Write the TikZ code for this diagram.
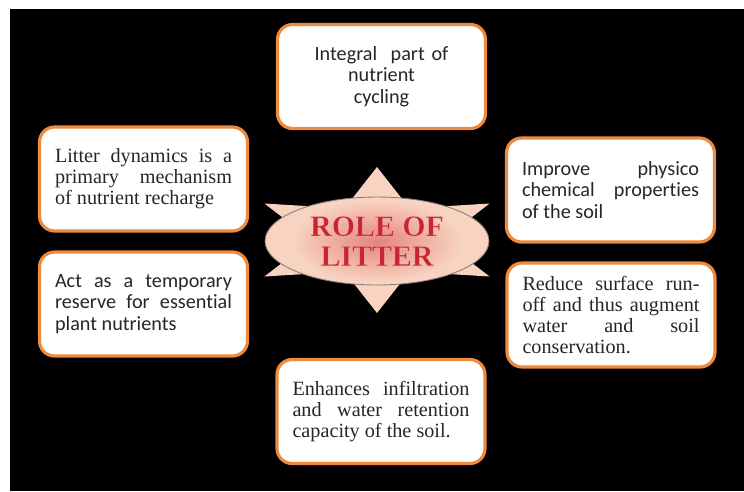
\documentclass[tikz,border=0pt]{standalone}
\usepackage{fontspec}
\setmainfont{Liberation Serif}
\newfontfamily\calibri[Ligatures=NoCommon]{Carlito}
\usetikzlibrary{shapes.geometric,fadings}
\definecolor{boxorange}{HTML}{EE8A3C}
\definecolor{peach}{HTML}{F9D3C1}
\definecolor{rimgray}{HTML}{8C7C74}
\definecolor{litterred}{HTML}{C8262E}
\definecolor{hazered}{HTML}{DC6464}
\newcommand{\rimword}[1]{\special{pdf:literal direct 2 Tr 0.18 w 0.95 0.72 0.70 RG}#1%
	\special{pdf:literal direct 0 Tr}}
\tikzfading[name=haze fade, inner color=transparent!30, outer color=transparent!100]
\tikzset{
	box/.style = {draw=boxorange, line width=1.8pt, fill=white, rounded corners=0.3cm,
	              minimum width=4.16cm, minimum height=2.08cm, text width=3.54cm,
	              inner sep=0pt, align=justify, text=black!85,
	              font=\fontsize{11.5}{11.9}\selectfont},
	sans/.style = {font=\calibri\fontsize{11.5}{12.3}\selectfont},
}

\begin{document}
\begin{tikzpicture}[x=0.02cm, y=-0.02cm]
		\useasboundingbox (0, 0) rectangle (744, 491);
		\fill [black] (10, 9) rectangle (744, 491);
		\fill [peach] (377, 167) -- (409.5, 208.4) -- (489.6, 203.5) -- (442, 240)
			-- (489.6, 276.5) -- (409.5, 271.6) -- (377, 313) -- (344.5, 271.6)
			-- (264.4, 276.5) -- (312, 240) -- (264.4, 203.5) -- (344.5, 208.4) -- cycle;
		\node (role) [ellipse, draw=rimgray, fill=peach, line width=0.5pt,
			minimum width=4.48cm, minimum height=1.76cm] at (377, 241) {};
		\fill [hazered, path fading=haze fade, fit fading=true] (292, 200) rectangle (462, 282);
		\node (title) [inner sep=0pt, align=center, text=litterred,
			font=\bfseries\fontsize{17}{17}\selectfont] at (role.center)
			{\rimword{ROLE OF}\\\rimword{LITTER}};
		\node (cycling) [box, sans, align=center] at (381.5, 76.5)
			{Integral\ \ part of\\nutrient\\cycling};
		\node (recharge) [box] at (143.5, 179)
			{Litter dynamics is a\linebreak primary mechanism\linebreak of nutrient recharge};
		\node (reserve) [box, sans] at (143.5, 304)
			{Act as a temporary\linebreak reserve for essential\linebreak plant nutrients};
		\node (physico) [box, sans] at (610.5, 190)
			{Improve physico\linebreak chemical properties\linebreak of the soil};
		\node (runoff) [box] at (611, 315)
			{Reduce surface run-\linebreak off and thus augment\linebreak water and soil\linebreak conservation.};
		\node (infiltration) [box] at (381, 411.5)
			{Enhances infiltration\linebreak and water retention\linebreak capacity of the soil.};
\end{tikzpicture}
\end{document}
